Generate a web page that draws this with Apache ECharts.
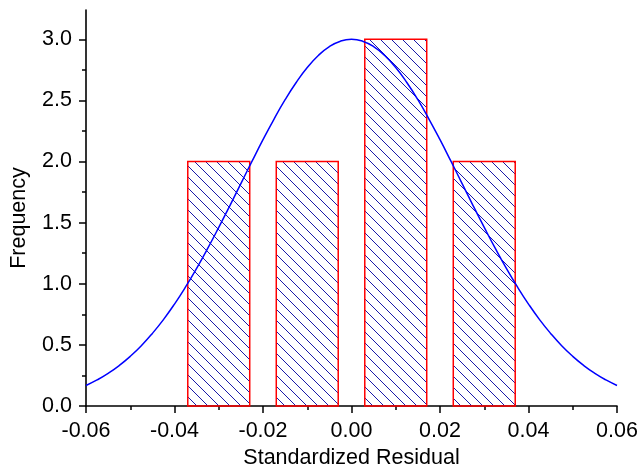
<!DOCTYPE html>
<html>
<head>
<meta charset="utf-8">
<title>Standardized Residual histogram</title>
<script src="https://cdn.jsdelivr.net/npm/echarts@6/dist/echarts.min.js"></script>
<style>
  html, body { margin: 0; padding: 0; background: #fff; }
  #chart { width: 638px; height: 473px; }
</style>
</head>
<body>
<div id="chart"></div>
<script>
// histogram bins
var binStart = [-0.037, -0.017, 0.003, 0.023];
var binEnd = [-0.023, -0.003, 0.017, 0.037];
var counts = [2, 2, 3, 2];

// fitted normal curve
var curveX = [-0.06, -0.0575, -0.055, -0.0525, -0.05, -0.0475, -0.045, -0.0425, -0.04, -0.0375,
    -0.035, -0.0325, -0.03, -0.0275, -0.025, -0.0225, -0.02, -0.0175, -0.015, -0.0125,
    -0.01, -0.0075, -0.005, -0.0025, 0, 0.0025, 0.005, 0.0075, 0.01, 0.0125,
    0.015, 0.0175, 0.02, 0.0225, 0.025, 0.0275, 0.03, 0.0325, 0.035, 0.0375,
    0.04, 0.0425, 0.045, 0.0475, 0.05, 0.0525, 0.055, 0.0575, 0.06];
var curveY = [0.168, 0.213, 0.267, 0.331, 0.406, 0.493, 0.594, 0.707, 0.834, 0.974,
    1.126, 1.289, 1.461, 1.638, 1.820, 2.001, 2.179, 2.348, 2.506, 2.647,
    2.769, 2.868, 2.941, 2.985, 3.0, 2.985, 2.941, 2.868, 2.769, 2.647,
    2.506, 2.348, 2.179, 2.001, 1.820, 1.638, 1.461, 1.289, 1.126, 0.974,
    0.834, 0.707, 0.594, 0.493, 0.406, 0.331, 0.267, 0.213, 0.168];

// axis ticks
var yTicks = [0, 0.5, 1.0, 1.5, 2.0, 2.5, 3.0];
var yMinorTicks = [0.25, 0.75, 1.25, 1.75, 2.25, 2.75];

var FONT = 'Liberation Sans, Arial, sans-serif';
var FS = 21.5;

// diagonal hatch used to fill the bars
function makeHatch() {
    var s = 11;
    var c = document.createElement('canvas');
    c.width = s;
    c.height = s;
    var ctx = c.getContext('2d');
    ctx.strokeStyle = '#1a1aa8';
    ctx.lineWidth = 1;
    ctx.beginPath();
    ctx.moveTo(-1, -1);
    ctx.lineTo(s + 1, s + 1);
    ctx.moveTo(-1, s - 1);
    ctx.lineTo(1, s + 1);
    ctx.moveTo(s - 1, -1);
    ctx.lineTo(s + 1, 1);
    ctx.stroke();
    return c;
}
var hatch = { image: makeHatch(), repeat: 'repeat' };

var binData = [];
for (var i = 0; i < counts.length; i++) {
    binData.push([binStart[i], binEnd[i], counts[i]]);
}
var curveData = [];
for (var j = 0; j < curveX.length; j++) {
    curveData.push([curveX[j], curveY[j]]);
}

var chart = echarts.init(document.getElementById('chart'));

var option = {
    animation: false,
    backgroundColor: '#fff',
    grid: { left: 86, right: 21, top: 10, bottom: 67, outerBoundsMode: 'none' },
    xAxis: {
        type: 'value',
        min: -0.06,
        max: 0.06,
        interval: 0.02,
        name: 'Standardized Residual',
        nameLocation: 'middle',
        nameGap: 41,
        nameTextStyle: { fontFamily: FONT, fontSize: FS, color: '#000' },
        axisLine: { show: true, onZero: false, lineStyle: { color: '#000', width: 1.6 } },
        axisTick: { show: true, inside: false, length: 7, lineStyle: { color: '#000', width: 1.5 } },
        minorTick: { show: true, splitNumber: 2, length: 4, lineStyle: { color: '#000', width: 1.5 } },
        axisLabel: {
            margin: 14,
            fontFamily: FONT,
            fontSize: FS,
            color: '#000',
            formatter: function (v) {
                if (Math.abs(v) < 1e-9) v = 0;
                return v.toFixed(2);
            }
        },
        splitLine: { show: false }
    },
    yAxis: [
        {
            type: 'value',
            min: 0,
            max: 3.24,
            name: 'Frequency',
            nameLocation: 'middle',
            nameGap: 56,
            nameTextStyle: { fontFamily: FONT, fontSize: FS, color: '#000', padding: [0, 20, 0, 0] },
            axisLine: { show: true, onZero: false, lineStyle: { color: '#000', width: 1.6 } },
            axisTick: { show: true, inside: false, length: 7, customValues: yTicks, lineStyle: { color: '#000', width: 1.5 } },
            axisLabel: {
                margin: 14,
                fontFamily: FONT,
                fontSize: FS,
                color: '#000',
                customValues: yTicks,
                formatter: function (v) { return v.toFixed(1); }
            },
            splitLine: { show: false }
        },
        {
            type: 'value',
            min: 0,
            max: 3.24,
            position: 'left',
            offset: 0,
            axisLine: { show: false, onZero: false },
            axisTick: { show: true, inside: false, length: 4, customValues: yMinorTicks, lineStyle: { color: '#000', width: 1.5 } },
            axisLabel: { show: false, customValues: yMinorTicks },
            splitLine: { show: false }
        }
    ],
    series: [
        {
            type: 'custom',
            data: binData,
            encode: { x: [0, 1], y: 2 },
            renderItem: function (params, api) {
                var p0 = api.coord([api.value(0), api.value(2)]);
                var p1 = api.coord([api.value(1), 0]);
                return {
                    type: 'rect',
                    shape: { x: p0[0], y: p0[1], width: p1[0] - p0[0], height: p1[1] - p0[1] },
                    style: { fill: hatch, stroke: '#ff0000', lineWidth: 1.5 }
                };
            },
            z: 2
        },
        {
            type: 'line',
            data: curveData,
            smooth: true,
            showSymbol: false,
            lineStyle: { color: '#0000ff', width: 1.5 },
            z: 3
        }
    ]
};

chart.setOption(option);
</script>
</body>
</html>
